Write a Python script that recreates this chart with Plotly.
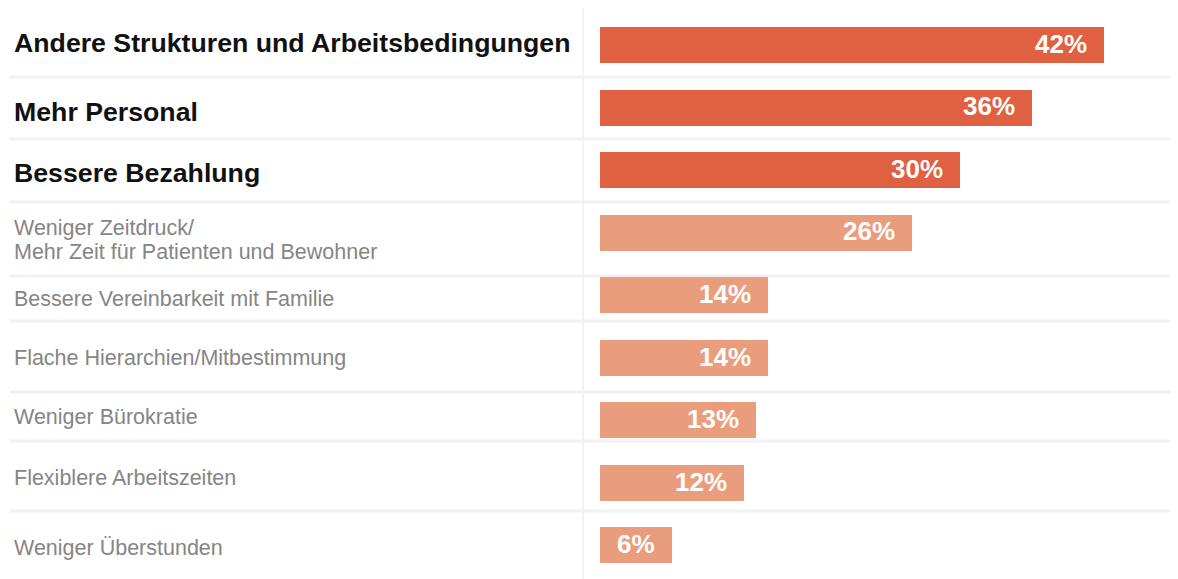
import plotly.graph_objects as go

# ---- data ----
categories = [
    "Andere Strukturen und Arbeitsbedingungen",
    "Mehr Personal",
    "Bessere Bezahlung",
    "Weniger Zeitdruck/\nMehr Zeit für Patienten und Bewohner",
    "Bessere Vereinbarkeit mit Familie",
    "Flache Hierarchien/Mitbestimmung",
    "Weniger Bürokratie",
    "Flexiblere Arbeitszeiten",
    "Weniger Überstunden",
]
values = [42, 36, 30, 26, 14, 14, 13, 12, 6]
highlight = [True, True, True, False, False, False, False, False, False]

# ---- style / layout constants (page pixels; the page body adds an 8px margin) ----
PAGE_W, PAGE_H = 1178, 579
OFF = 8
W, H = PAGE_W - OFF, PAGE_H - OFF
DARK = "#e06141"
LIGHT = "#ea9d7d"
GRID = "#f1f1f1"
FONT = "Liberation Sans, Arial, Helvetica, sans-serif"
PX_PER_PCT = 12.0
BAR_LEFT_PX = 600 - OFF
ROW_TOP_PX, ROW_PITCH = 13.75 - OFF, 62.5
label_shift = [-2, 4.5, 3, 7.5, 4, 0.5, -3, -4.5, 3]  # px downwards vs bar centre
sep_px = [p - OFF for p in [77, 139, 202, 276, 321, 392, 441, 511]]
LABEL_X = 12 - OFF
SEP_X0 = 10 - OFF
VLINE_X = 583 - OFF

n = len(categories)
ys = list(range(n))
colors = [DARK if h else LIGHT for h in highlight]

fig = go.Figure()
fig.add_trace(go.Bar(
    x=values, y=ys, orientation="h",
    marker=dict(color=colors, line=dict(width=0)),
    width=36 / ROW_PITCH,
    hoverinfo="skip",
))

annotations = []
for i, (cat, v, h) in enumerate(zip(categories, values, highlight)):
    lines = cat.split("\n")
    k = len(lines)
    for j, line in enumerate(lines):
        off = label_shift[i] + (j - (k - 1) / 2) * 24
        annotations.append(dict(
            x=LABEL_X / W, xref="paper", xanchor="left",
            y=i, yref="y", yanchor="middle", yshift=-off,
            text=f"<b>{line}</b>" if h else line,
            showarrow=False,
            font=dict(family=FONT, size=26.7 if h else 21.5,
                      color="#111111" if h else "#858585"),
        ))
    annotations.append(dict(
        x=v, xref="x", xanchor="right", xshift=-15,
        y=i, yref="y", yanchor="middle", yshift=1,
        text=f"<b>{v}%</b>", showarrow=False,
        font=dict(family=FONT, size=26, color="white"),
    ))

shapes = []
for p in sep_px:
    shapes.append(dict(type="line", xref="paper", yref="paper",
                       x0=SEP_X0 / W, x1=1, y0=1 - p / H, y1=1 - p / H,
                       line=dict(color=GRID, width=3), layer="below"))
shapes.append(dict(type="line", xref="paper", yref="paper",
                   x0=VLINE_X / W, x1=VLINE_X / W, y0=0, y1=1,
                   line=dict(color=GRID, width=2), layer="below"))

x_range_max = (W - BAR_LEFT_PX) / PX_PER_PCT
fig.update_layout(
    width=W, height=H,
    margin=dict(l=0, r=0, t=0, b=0),
    paper_bgcolor="white", plot_bgcolor="rgba(0,0,0,0)",
    showlegend=False,
    xaxis=dict(domain=[BAR_LEFT_PX / W, 1], range=[0, x_range_max],
               visible=False, fixedrange=True),
    yaxis=dict(domain=[1 - (ROW_TOP_PX + n * ROW_PITCH) / H, 1 - ROW_TOP_PX / H],
               range=[n - 0.5, -0.5], visible=False, fixedrange=True),
    annotations=annotations,
    shapes=shapes,
    bargap=0,
)

fig.write_html("out.html")
